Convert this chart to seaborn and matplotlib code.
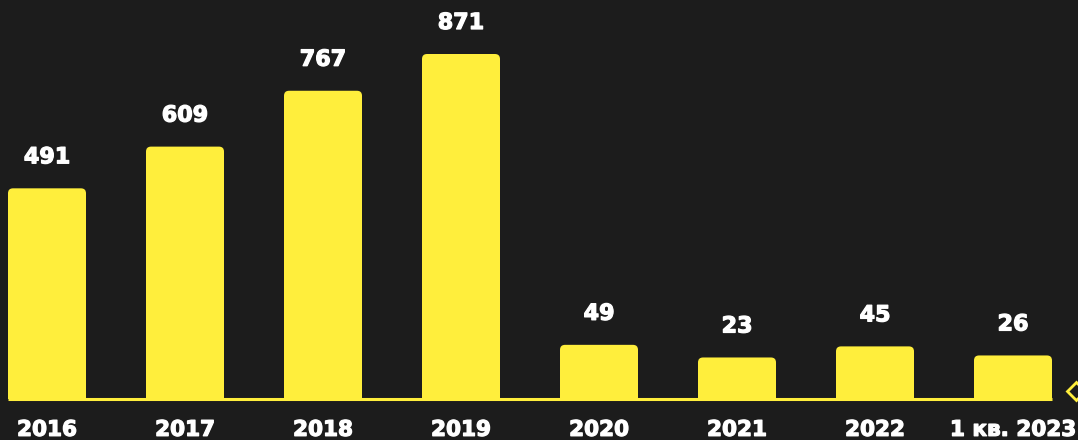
import numpy as np
import pandas as pd
import matplotlib
matplotlib.use("Agg")
import matplotlib.pyplot as plt
import matplotlib.patheffects as pe
from matplotlib.patches import FancyBboxPatch
from matplotlib.transforms import IdentityTransform
from matplotlib.lines import Line2D
import seaborn as sns

# Data
periods = ["2016", "2017", "2018", "2019", "2020", "2021", "2022", "1 кв. 2023"]
counts = [491, 609, 767, 871, 49, 23, 45, 26]

BG = "#1c1c1c"
YELLOW = "#ffee3c"
FONT = ["DejaVu Sans"]

sns.set_theme(style="white")
plt.rcParams["font.family"] = FONT

df = pd.DataFrame({"period": periods, "count": counts})

# Compressed vertical scale: small values get a visible lift
K, M = 105.0, 10.0
_grid = np.linspace(0, 6000, 60001)
_fgrid = _grid + K * (1 - np.exp(-_grid / M))


def fwd(v):
    v = np.asarray(v, dtype=float)
    a = np.abs(v)
    return np.sign(v) * (a + K * (1 - np.exp(-a / M)))


def inv(y):
    y = np.asarray(y, dtype=float)
    return np.sign(y) * np.interp(np.abs(y), _fgrid, _grid)


fig = plt.figure(figsize=(10.78, 4.40), dpi=100, facecolor=BG)
ax = fig.add_axes([0, 41 / 440, 1, 399 / 440])
ax.set_facecolor(BG)

sns.barplot(data=df, x="period", y="count", color=YELLOW, width=78 / 138,
            saturation=1, ax=ax)

ax.set_yscale("function", functions=(fwd, inv))
top = inv(fwd(max(counts)) * 399 / 345)
ax.set_ylim(0, float(top))
ax.set_xlim(-47 / 138, (1078 - 47) / 138)

heavy = [pe.withStroke(linewidth=0.9, foreground="white")]

for s in ax.spines.values():
    s.set_visible(False)
ax.set_yticks([])
ax.set_xlabel("")
ax.set_ylabel("")
ax.tick_params(axis="x", length=0, pad=15, colors="white")
for lbl in ax.get_xticklabels():
    lbl.set_fontsize(15.5)
    lbl.set_fontweight("bold")
    lbl.set_color("white")
    lbl.set_path_effects(heavy)

# Rounded tops for the bars, drawn in pixel space
r = 5
rects = list(ax.patches)
for p in rects:
    x0, y0 = ax.transData.transform((p.get_x(), 0))
    x1, y1 = ax.transData.transform((p.get_x() + p.get_width(), p.get_height()))
    fb = FancyBboxPatch((x0, y0 - 2 * r), x1 - x0, (y1 - y0) + 2 * r,
                        boxstyle=f"round,pad=0,rounding_size={r}",
                        facecolor=YELLOW, edgecolor="none",
                        transform=IdentityTransform())
    ax.add_patch(fb)
    p.set_visible(False)

# Value labels above the bars
for p, v in zip(rects, counts):
    ax.annotate(f"{v}", (p.get_x() + p.get_width() / 2, p.get_height()),
                xytext=(0, 18), textcoords="offset points",
                ha="center", va="baseline", color="white",
                fontsize=16, fontweight="bold", path_effects=heavy)

# Baseline spanning the bars
xl = rects[0].get_x()
xr = rects[-1].get_x() + rects[-1].get_width()
ax.plot([xl, xr], [0, 0], color=YELLOW, lw=2.2, clip_on=False,
        solid_capstyle="butt", zorder=3)

# Small diamond at the right edge
fig.add_artist(Line2D([1076], [440 - 390.5], marker="D", markersize=9,
                      markerfacecolor=BG, markeredgecolor=YELLOW,
                      markeredgewidth=2, linestyle="none",
                      transform=IdentityTransform()))

fig.savefig("out.png", dpi=100, facecolor=BG)
